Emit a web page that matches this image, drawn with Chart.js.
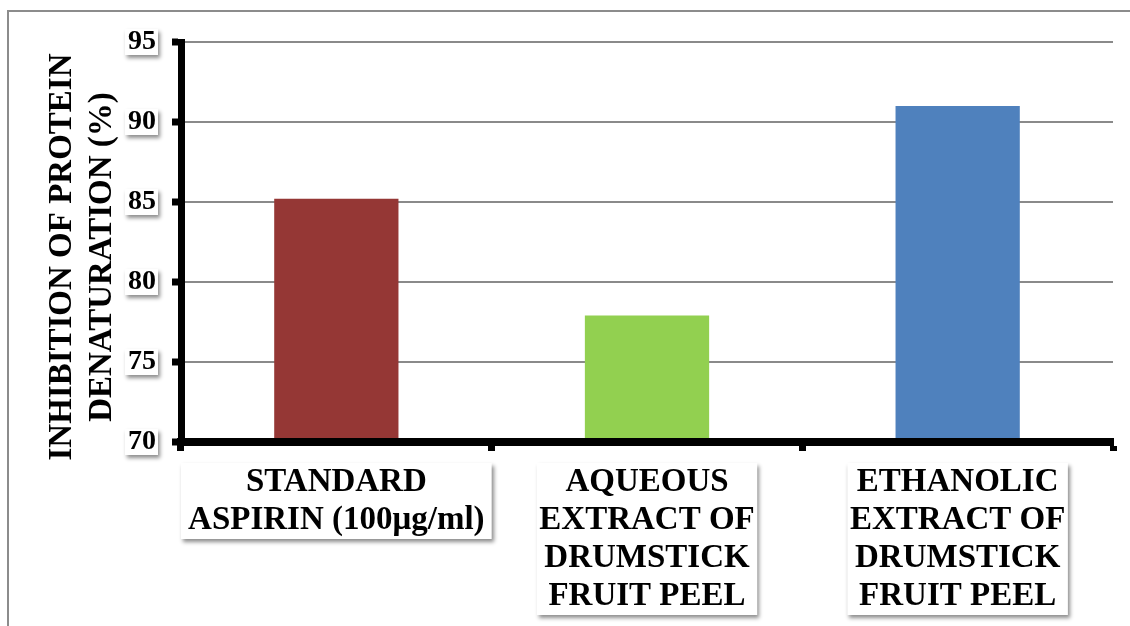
<!DOCTYPE html>
<html>
<head>
<meta charset="utf-8">
<title>Inhibition of protein denaturation</title>
<script src="https://cdn.jsdelivr.net/npm/chart.js@4/dist/chart.umd.min.js"></script>
<style>
  html, body { margin: 0; padding: 0; background: #ffffff; }
  #wrap { position: relative; width: 1130px; height: 626px; }
  canvas { display: block; }
</style>
</head>
<body>
<div id="wrap"><canvas id="chart" width="1130" height="626"></canvas></div>
<script>
// Category labels (one array entry per printed line)
const categories = [
  ['STANDARD', 'ASPIRIN (100μg/ml)'],
  ['AQUEOUS', 'EXTRACT OF', 'DRUMSTICK', 'FRUIT PEEL'],
  ['ETHANOLIC', 'EXTRACT OF', 'DRUMSTICK', 'FRUIT PEEL']
];
// % inhibition of protein denaturation
const inhibition = [85.2, 77.9, 91.0];
const barColors = ['#953735', '#92D050', '#4F81BD'];
// Value axis range and step
const yMin = 70;
const yMax = 95;
const yStep = 5;
const yTitle = ['INHIBITION OF PROTEIN', 'DENATURATION (%)'];

const SERIF = "'Liberation Serif', 'Times New Roman', serif";
const catLineHeight = 38;

// White label boxes with drop shadow, outer frame and the rotated axis title
const decorations = {
  id: 'decorations',
  beforeDraw(chart) {
    const ctx = chart.ctx;
    const area = chart.chartArea;
    ctx.save();

    // outer frame (top and left edges)
    ctx.strokeStyle = '#8c8c8c';
    ctx.lineWidth = 2;
    ctx.beginPath();
    ctx.moveTo(8, chart.height);
    ctx.lineTo(8, 11);
    ctx.lineTo(chart.width, 11);
    ctx.stroke();

    const shadow = () => {
      ctx.shadowColor = 'rgba(0,0,0,0.45)';
      ctx.shadowBlur = 4;
      ctx.shadowOffsetX = 2;
      ctx.shadowOffsetY = 3;
    };

    // boxes behind value-axis tick labels
    const ys = chart.scales.y;
    ctx.font = 'bold 28px ' + SERIF;
    ys.ticks.forEach((t, i) => {
      const py = ys.getPixelForTick(i);
      const w = ctx.measureText(String(t.value)).width + 5;
      const right = area.left - 9 - 14;
      shadow();
      ctx.fillStyle = '#ffffff';
      ctx.fillRect(right - w, py - 13, w, 26);
    });

    // boxes behind category labels
    const xs = chart.scales.x;
    const catW = xs.width / categories.length;
    ctx.font = 'bold 33px ' + SERIF;
    categories.forEach((lines, i) => {
      const cx = xs.getPixelForTick(i);
      let maxW = 0;
      lines.forEach(l => { maxW = Math.max(maxW, ctx.measureText(l).width); });
      let w = maxW + 5;
      if (w > catW * 0.9) w = catW;
      const top = area.bottom + 21;
      shadow();
      ctx.fillStyle = '#ffffff';
      ctx.fillRect(cx - w / 2, top, w, lines.length * catLineHeight);
    });
    ctx.restore();

    // rotated value-axis title
    ctx.save();
    ctx.fillStyle = '#000000';
    ctx.font = 'bold 33px ' + SERIF;
    ctx.textAlign = 'center';
    ctx.textBaseline = 'middle';
    ctx.translate(62, (area.top + area.bottom) / 2 + 15);
    ctx.rotate(-Math.PI / 2);
    yTitle.forEach((line, i) => ctx.fillText(line, 0, i * 40));
    ctx.restore();
  }
};

new Chart(document.getElementById('chart'), {
  type: 'bar',
  data: {
    labels: categories,
    datasets: [{
      data: inhibition,
      backgroundColor: barColors,
      borderWidth: 0,
      barPercentage: 1,
      categoryPercentage: 0.4
    }]
  },
  options: {
    responsive: false,
    animation: false,
    devicePixelRatio: 1,
    layout: { padding: { top: 42, right: 17, left: 0, bottom: 0 } },
    plugins: {
      legend: { display: false },
      tooltip: { enabled: false }
    },
    scales: {
      x: {
        afterFit(scale) { scale.height = 184; },
        grid: {
          display: true,
          drawOnChartArea: false,
          drawTicks: true,
          tickLength: 9,
          tickColor: '#000000',
          tickWidth: 7,
          offset: true
        },
        border: { display: true, color: '#000000', width: 8, z: 1 },
        ticks: {
          color: '#000000',
          font: { family: SERIF, size: 33, weight: 'bold', lineHeight: catLineHeight / 33 },
          padding: 12,
          maxRotation: 0,
          autoSkip: false
        }
      },
      y: {
        min: yMin,
        max: yMax,
        afterFit(scale) { scale.width = 181; },
        grid: {
          color: '#8a8a8a',
          lineWidth: 2,
          drawTicks: true,
          tickLength: 9,
          tickColor: '#000000',
          tickWidth: 7
        },
        border: { display: true, color: '#000000', width: 7, z: 1 },
        ticks: {
          stepSize: yStep,
          color: '#000000',
          font: { family: SERIF, size: 28, weight: 'bold' },
          padding: 16
        }
      }
    }
  },
  plugins: [decorations]
});
</script>
</body>
</html>
